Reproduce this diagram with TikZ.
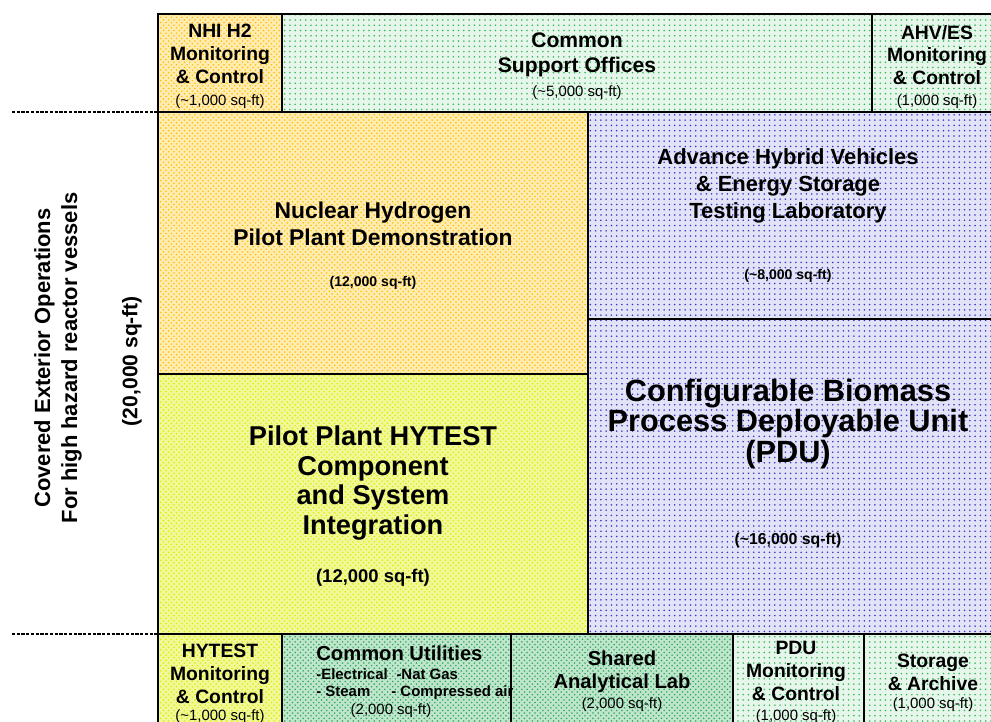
\documentclass[tikz,border=0pt]{standalone}
\usepackage{fontspec}
\setmainfont{Liberation Sans}
\usetikzlibrary{patterns}
\definecolor{hydrogold}{HTML}{FFC000}
\definecolor{hytestlime}{HTML}{DDEE00}
\definecolor{officegreen}{HTML}{33B85C}
\definecolor{utilgreen}{HTML}{2EA85A}
\definecolor{labblue}{HTML}{3535C8}
\begin{document}
\begin{tikzpicture}[x=0.02cm, y=-0.02cm,
		room/.style={draw=black, line width=1.6pt},
		nhi/.style={room, preaction={fill=hydrogold!30}, pattern=crosshatch dots, pattern color=hydrogold},
		hytest/.style={room, preaction={fill=hytestlime!40}, pattern=crosshatch dots, pattern color=hytestlime},
		office/.style={room, preaction={fill=officegreen!12}, pattern=dots, pattern color=officegreen},
		utility/.style={room, preaction={fill=utilgreen!30}, pattern=crosshatch dots, pattern color=utilgreen},
		vehicle/.style={room, preaction={fill=labblue!14}, pattern=dots, pattern color=labblue},
		fence/.style={line width=1.2pt, dash pattern=on 1.8pt off 0.9pt},
		every node/.style={inner sep=0pt, align=center},
		small/.style={font=\fontsize{11}{13}\selectfont\bfseries},
		area/.style={font=\fontsize{8.5}{10}\selectfont}]

	\useasboundingbox (0,0) rectangle (991,721);
	\clip (0,0) rectangle (991,721);

	\draw[nhi] (158,14) rectangle (282,112);
	\draw[office] (282,14) rectangle (872,112);
	\draw[office] (872,14) rectangle (1000,112);
	\draw[nhi] (158,112) rectangle (588,374);
	\draw[hytest] (158,374) rectangle (588,634);
	\draw[vehicle] (588,112) rectangle (1000,319);
	\draw[vehicle] (588,319) rectangle (1000,634);
	\draw[hytest] (158,634) rectangle (282,740);
	\draw[utility] (282,634) rectangle (511,740);
	\draw[utility] (511,634) rectangle (733,740);
	\draw[office] (733,634) rectangle (864,740);
	\draw[office] (864,634) rectangle (1000,740);

	\coordinate (fenceTopEnd) at (12,112);
	\coordinate (fenceTopWall) at (158,112);
	\coordinate (fenceLowEnd) at (12,634);
	\coordinate (fenceLowWall) at (158,634);
	\draw[fence] (fenceTopEnd) -- (fenceTopWall);
	\draw[fence] (fenceLowEnd) -- (fenceLowWall);

	\node[rotate=90, font=\fontsize{12.5}{15.3}\selectfont\bfseries] (extTitle) at (58,358) {Covered Exterior Operations\\For high hazard reactor vessels};
	\node[rotate=90, font=\fontsize{12}{14}\selectfont\bfseries] (extArea) at (132,361) {(20,000 sq-ft)};

	\node[small] (nhiMon) at (220,54) {NHI H2\\Monitoring\\\& Control};
	\node[area] (nhiArea) at (220,102) {(\textasciitilde1,000 sq-ft)};
	\node[font=\fontsize{12}{14}\selectfont\bfseries] (supTitle) at (577,55) {Common\\Support Offices};
	\node[area] (supArea) at (577,93) {(\textasciitilde5,000 sq-ft)};
	\node[small] (ahvMon) at (937,55) {AHV/ES\\Monitoring\\\& Control};
	\node[area] (ahvArea) at (937,102) {(1,000 sq-ft)};

	\node[font=\fontsize{13}{15.5}\selectfont\bfseries] (nucTitle) at (373,224) {Nuclear Hydrogen\\Pilot Plant Demonstration};
	\node[font=\fontsize{8}{10}\selectfont\bfseries] (nucArea) at (373,283) {(12,000 sq-ft)};
	\node[font=\fontsize{15.5}{17}\selectfont\bfseries] (pilotTitle) at (373,483) {Pilot Plant HYTEST\\Component\\and System\\Integration};
	\node[font=\fontsize{10.5}{12}\selectfont\bfseries] (pilotArea) at (373,578) {(12,000 sq-ft)};
	\node[font=\fontsize{12.5}{15.3}\selectfont\bfseries] (ahvTitle) at (788,186) {Advance Hybrid Vehicles\\\& Energy Storage\\Testing Laboratory};
	\node[font=\fontsize{8}{10}\selectfont\bfseries] (ahvLabArea) at (788,276) {(\textasciitilde8,000 sq-ft)};
	\node[font=\fontsize{17.5}{17.3}\selectfont\bfseries] (pduTitle) at (788,424) {Configurable Biomass\\Process Deployable Unit\\(PDU)};
	\node[font=\fontsize{9}{11}\selectfont\bfseries] (pduArea) at (788,540) {(\textasciitilde16,000 sq-ft)};

	\node[small] (hytMon) at (220,674) {HYTEST\\Monitoring\\\& Control};
	\node[area] (hytArea) at (220,717) {(\textasciitilde1,000 sq-ft)};
	\node[anchor=west, font=\fontsize{11.5}{13}\selectfont\bfseries] (utilTitle) at (316,653) {Common Utilities};
	\node[anchor=west, font=\fontsize{8.5}{10}\selectfont\bfseries] (utilLineA) at (316,674) {-Electrical\hspace{5pt}-Nat Gas};
	\node[anchor=west, font=\fontsize{8.5}{10}\selectfont\bfseries] (utilLineB) at (316,693) {- Steam\hspace{12pt}- Compressed air};
	\node[area] (utilArea) at (391,711) {(2,000 sq-ft)};
	\node[font=\fontsize{11.5}{13}\selectfont\bfseries] (labTitle) at (622,672) {Shared\\Analytical Lab};
	\node[area] (labArea) at (622,705) {(2,000 sq-ft)};
	\node[small] (pduMon) at (796,671) {PDU\\Monitoring\\\& Control};
	\node[area] (pduMonArea) at (796,717) {(1,000 sq-ft)};
	\node[small] (storTitle) at (933,672) {Storage\\\& Archive};
	\node[area] (storArea) at (933,705) {(1,000 sq-ft)};
\end{tikzpicture}
\end{document}
